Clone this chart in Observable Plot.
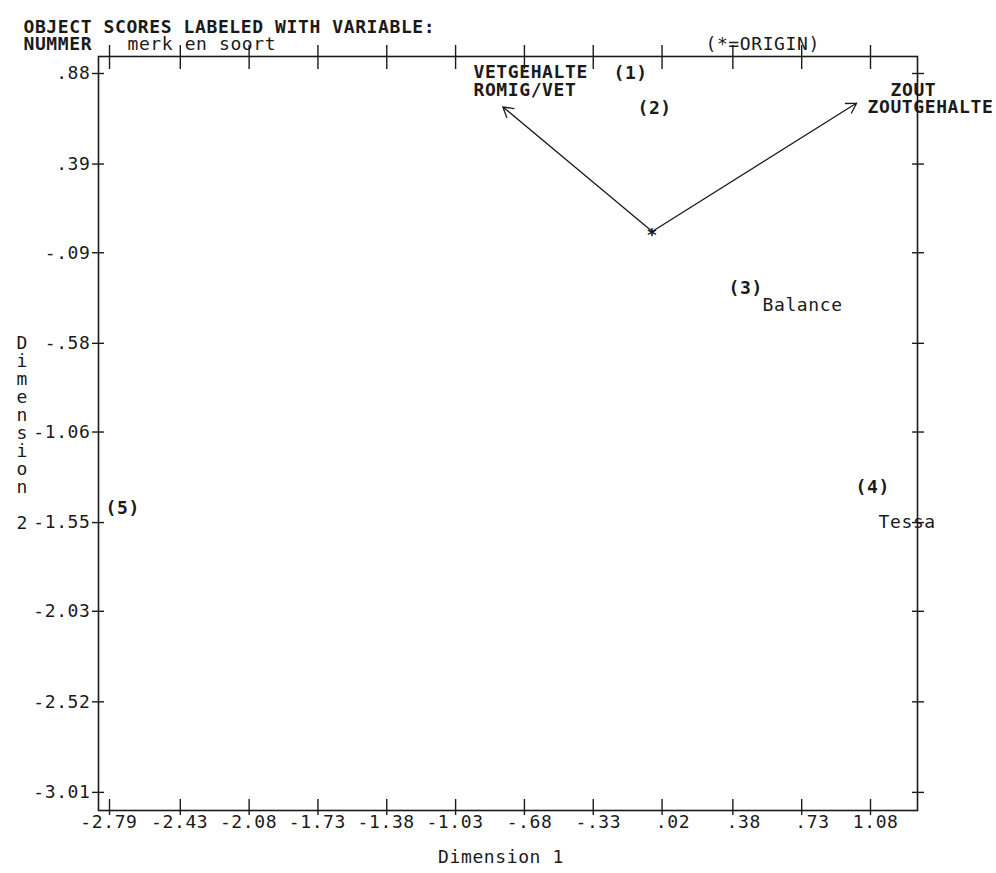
<!DOCTYPE html>
<html><head><meta charset="utf-8">
<script src="https://cdn.jsdelivr.net/npm/d3@7"></script>
<script src="https://cdn.jsdelivr.net/npm/@observablehq/plot@0.6"></script>
<style>body{margin:0;background:#fff}</style>
</head><body><div id="chart"></div>
<script>
// Axis ticks and labels
const xTicks = [-2.79, -2.43, -2.08, -1.73, -1.38, -1.03, -0.68, -0.33, 0.02, 0.38, 0.73, 1.08];
const xTickLabels = ["-2.79", "-2.43", "-2.08", "-1.73", "-1.38", "-1.03", "-.68", "-.33", ".02", ".38", ".73", "1.08"];
const yTicks = [0.88, 0.39, -0.09, -0.58, -1.06, -1.55, -2.03, -2.52, -3.01];
const yTickLabels = [".88", ".39", "-.09", "-.58", "-1.06", "-1.55", "-2.03", "-2.52", "-3.01"];

// Object scores (label positions)
const objectIds = ["(1)", "(2)", "(3)", "(4)", "(5)"];
const objectX = [-0.227, -0.105, 0.358, 1.004, -2.81];
const objectY = [0.88, 0.69, -0.283, -1.36, -1.47];

// Value labels of variable NUMMER (merk en soort)
const valueLabels = ["Balance", "Tessa"];
const valueX = [0.531, 1.121];
const valueY = [-0.375, -1.55];

// Origin and variable vectors
const origin = [-0.03, 0.025];
const vectorNames = ["VETGEHALTE", "ZOUT"];
const vectorX = [-0.79, 1.01];
const vectorY = [0.70, 0.72];
const vectorLabelLines = ["VETGEHALTE", "ROMIG/VET", "ZOUT", "ZOUTGEHALTE"];
const vectorLabelX = [-0.939, -0.939, 1.182, 1.065];
const vectorLabelY = [0.885, 0.788, 0.788, 0.696];

const FF = "DejaVu Sans Mono";
const FS = 18;
const INK = "#1a1a1a";

const chart = Plot.plot({
  width: 996,
  height: 873,
  marginLeft: 98,
  marginRight: 79,
  marginTop: 56,
  marginBottom: 63,
  style: {fontFamily: FF, letterSpacing: "0.6px", background: "#fff", color: INK},
  x: {domain: [-2.846, 1.319]},
  y: {domain: [-3.108, 0.972]},
  marks: [
    Plot.frame({stroke: INK, strokeWidth: 1.6}),
    Plot.axisX({anchor: "bottom", ticks: xTicks, tickSize: 16, dy: -11, tickFormat: () => "", label: null, stroke: INK, strokeWidth: 1.4}),
    Plot.axisX({anchor: "top", ticks: xTicks, tickSize: 24, dy: 12, tickFormat: () => "", label: null, stroke: INK, strokeWidth: 1.4}),
    Plot.axisY({anchor: "left", ticks: yTicks, tickSize: 12, dx: 6, tickFormat: () => "", label: null, stroke: INK, strokeWidth: 1.4}),
    Plot.axisY({anchor: "right", ticks: yTicks, tickSize: 12, dx: -6, tickFormat: () => "", label: null, stroke: INK, strokeWidth: 1.4}),
    Plot.text(xTicks, {x: d => d, text: (d, i) => xTickLabels[i], frameAnchor: "bottom", dy: 17, dx: 28, textAnchor: "end", fontSize: FS, fontFamily: FF, fill: INK}),
    Plot.text(yTicks, {y: d => d, text: (d, i) => yTickLabels[i], frameAnchor: "left", dx: -8, textAnchor: "end", fontSize: FS, fontFamily: FF, fill: INK}),
    Plot.arrow(vectorNames, {x1: () => origin[0], y1: () => origin[1], x2: (d, i) => vectorX[i], y2: (d, i) => vectorY[i], headLength: 13, stroke: INK, strokeWidth: 1.3}),
    Plot.text([origin], {x: d => d[0], y: d => d[1], text: () => "*", dy: 4, fontSize: FS, fontFamily: FF, fontWeight: "bold", fill: INK}),
    Plot.text(vectorLabelLines, {x: (d, i) => vectorLabelX[i], y: (d, i) => vectorLabelY[i], text: d => d, textAnchor: "start", fontSize: FS, fontFamily: FF, fontWeight: "bold", fill: INK}),
    Plot.text(objectIds, {x: (d, i) => objectX[i], y: (d, i) => objectY[i], text: d => d, textAnchor: "start", fontSize: FS, fontFamily: FF, fontWeight: "bold", fill: INK}),
    Plot.text(valueLabels, {x: (d, i) => valueX[i], y: (d, i) => valueY[i], text: d => d, textAnchor: "start", fontSize: FS, fontFamily: FF, fill: INK}),
    Plot.text(["OBJECT SCORES LABELED WITH VARIABLE:"], {text: d => d, frameAnchor: "top-left", dx: -75, dy: -36, textAnchor: "start", fontSize: FS, fontFamily: FF, fontWeight: "bold", fill: INK}),
    Plot.text(["NUMMER"], {text: d => d, frameAnchor: "top-left", dx: -75, dy: -19, textAnchor: "start", fontSize: FS, fontFamily: FF, fontWeight: "bold", fill: INK}),
    Plot.text(["merk en soort"], {text: d => d, frameAnchor: "top-left", dx: 29, dy: -19, textAnchor: "start", fontSize: FS, fontFamily: FF, fill: INK}),
    Plot.text(["(*=ORIGIN)"], {text: d => d, frameAnchor: "top-left", dx: 607, dy: -19, textAnchor: "start", fontSize: FS, fontFamily: FF, fill: INK}),
    Plot.text(["Dimension 1"], {text: d => d, frameAnchor: "bottom", dx: -7, dy: 52, fontSize: FS, fontFamily: FF, fill: INK}),
    Plot.text(["D\ni\nm\ne\nn\ns\ni\no\nn\n\n2"], {text: d => d, frameAnchor: "left", dx: -82, lineHeight: 1, fontSize: FS, fontFamily: FF, fill: INK})
  ]
});
document.getElementById("chart").appendChild(chart);
</script>
</body></html>
